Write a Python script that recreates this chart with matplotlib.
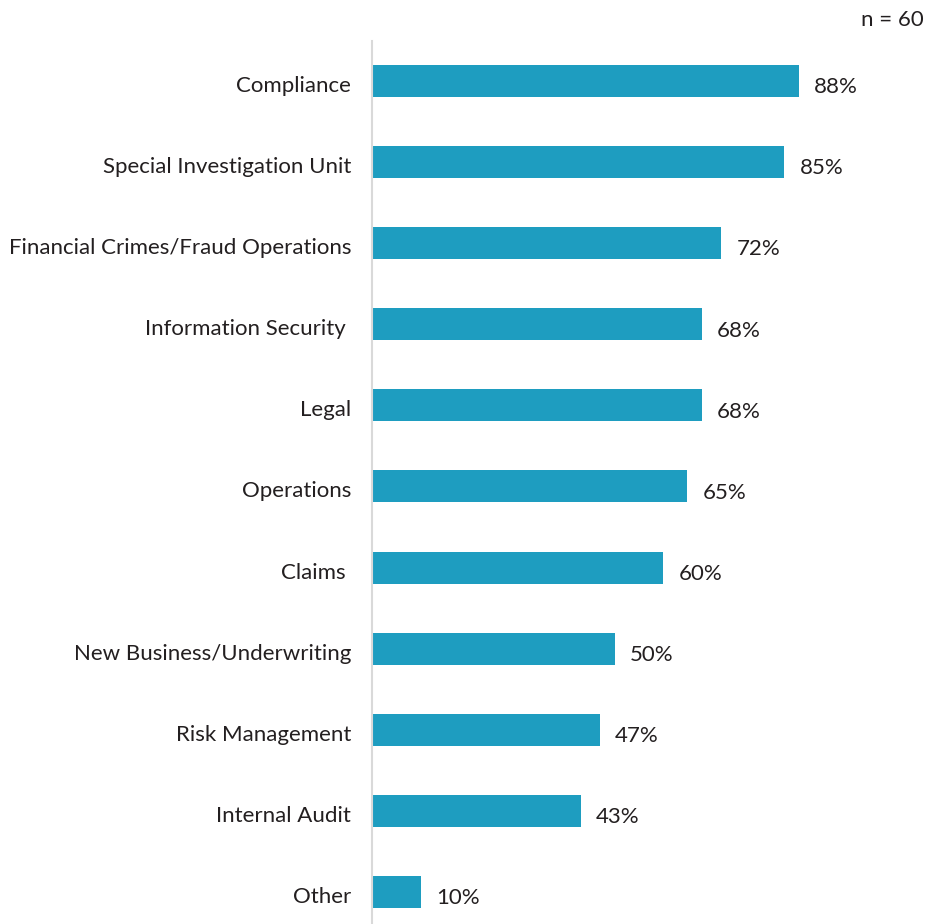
import numpy as np
import matplotlib.pyplot as plt
import matplotlib.transforms as mtransforms

# departments and share of respondents (%)
categories = [
    "Compliance",
    "Special Investigation Unit",
    "Financial Crimes/Fraud Operations",
    "Information Security ",
    "Legal",
    "Operations",
    "Claims ",
    "New Business/Underwriting",
    "Risk Management",
    "Internal Audit",
    "Other",
]
values = [88, 85, 72, 68, 68, 65, 60, 50, 47, 43, 10]
sample_note = "n = 60"

bar_color = "#1e9dc0"
text_color = "#231f20"

plt.rcParams["font.family"] = ["Lato", "DejaVu Sans"]

W, H = 927, 924
fig = plt.figure(figsize=(W / 100, H / 100), dpi=100)
ax = fig.add_axes([372 / W, 0, 485 / W, 1 - 41 / H])

y = np.arange(len(categories))
ax.barh(y, values, height=0.395, color=bar_color)
ax.set_xlim(0, 100)
ax.set_ylim(len(categories) - 1 + 0.395, -0.493)

for yi, v in zip(y, values):
    ax.annotate(f"{v}%", (v, yi), xytext=(11, -4.5), textcoords="offset points",
                ha="left", va="center", fontsize=16, color=text_color)

ax.set_yticks(y)
ax.set_yticklabels(categories, fontsize=16, color=text_color)
ax.tick_params(axis="y", length=0, pad=15)
shift = mtransforms.ScaledTranslation(0, -5 / 100, fig.dpi_scale_trans)
for lab in ax.get_yticklabels():
    lab.set_verticalalignment("center")
    lab.set_transform(lab.get_transform() + shift)
ax.set_xticks([])

for s in ["top", "right", "bottom"]:
    ax.spines[s].set_visible(False)
ax.spines["left"].set_color("#d9d9d9")
ax.spines["left"].set_linewidth(1.5)

fig.text(924 / W, 1 - 20 / H, sample_note, ha="right", va="center",
         fontsize=16, color=text_color)

fig.savefig("out.png", dpi=100)
